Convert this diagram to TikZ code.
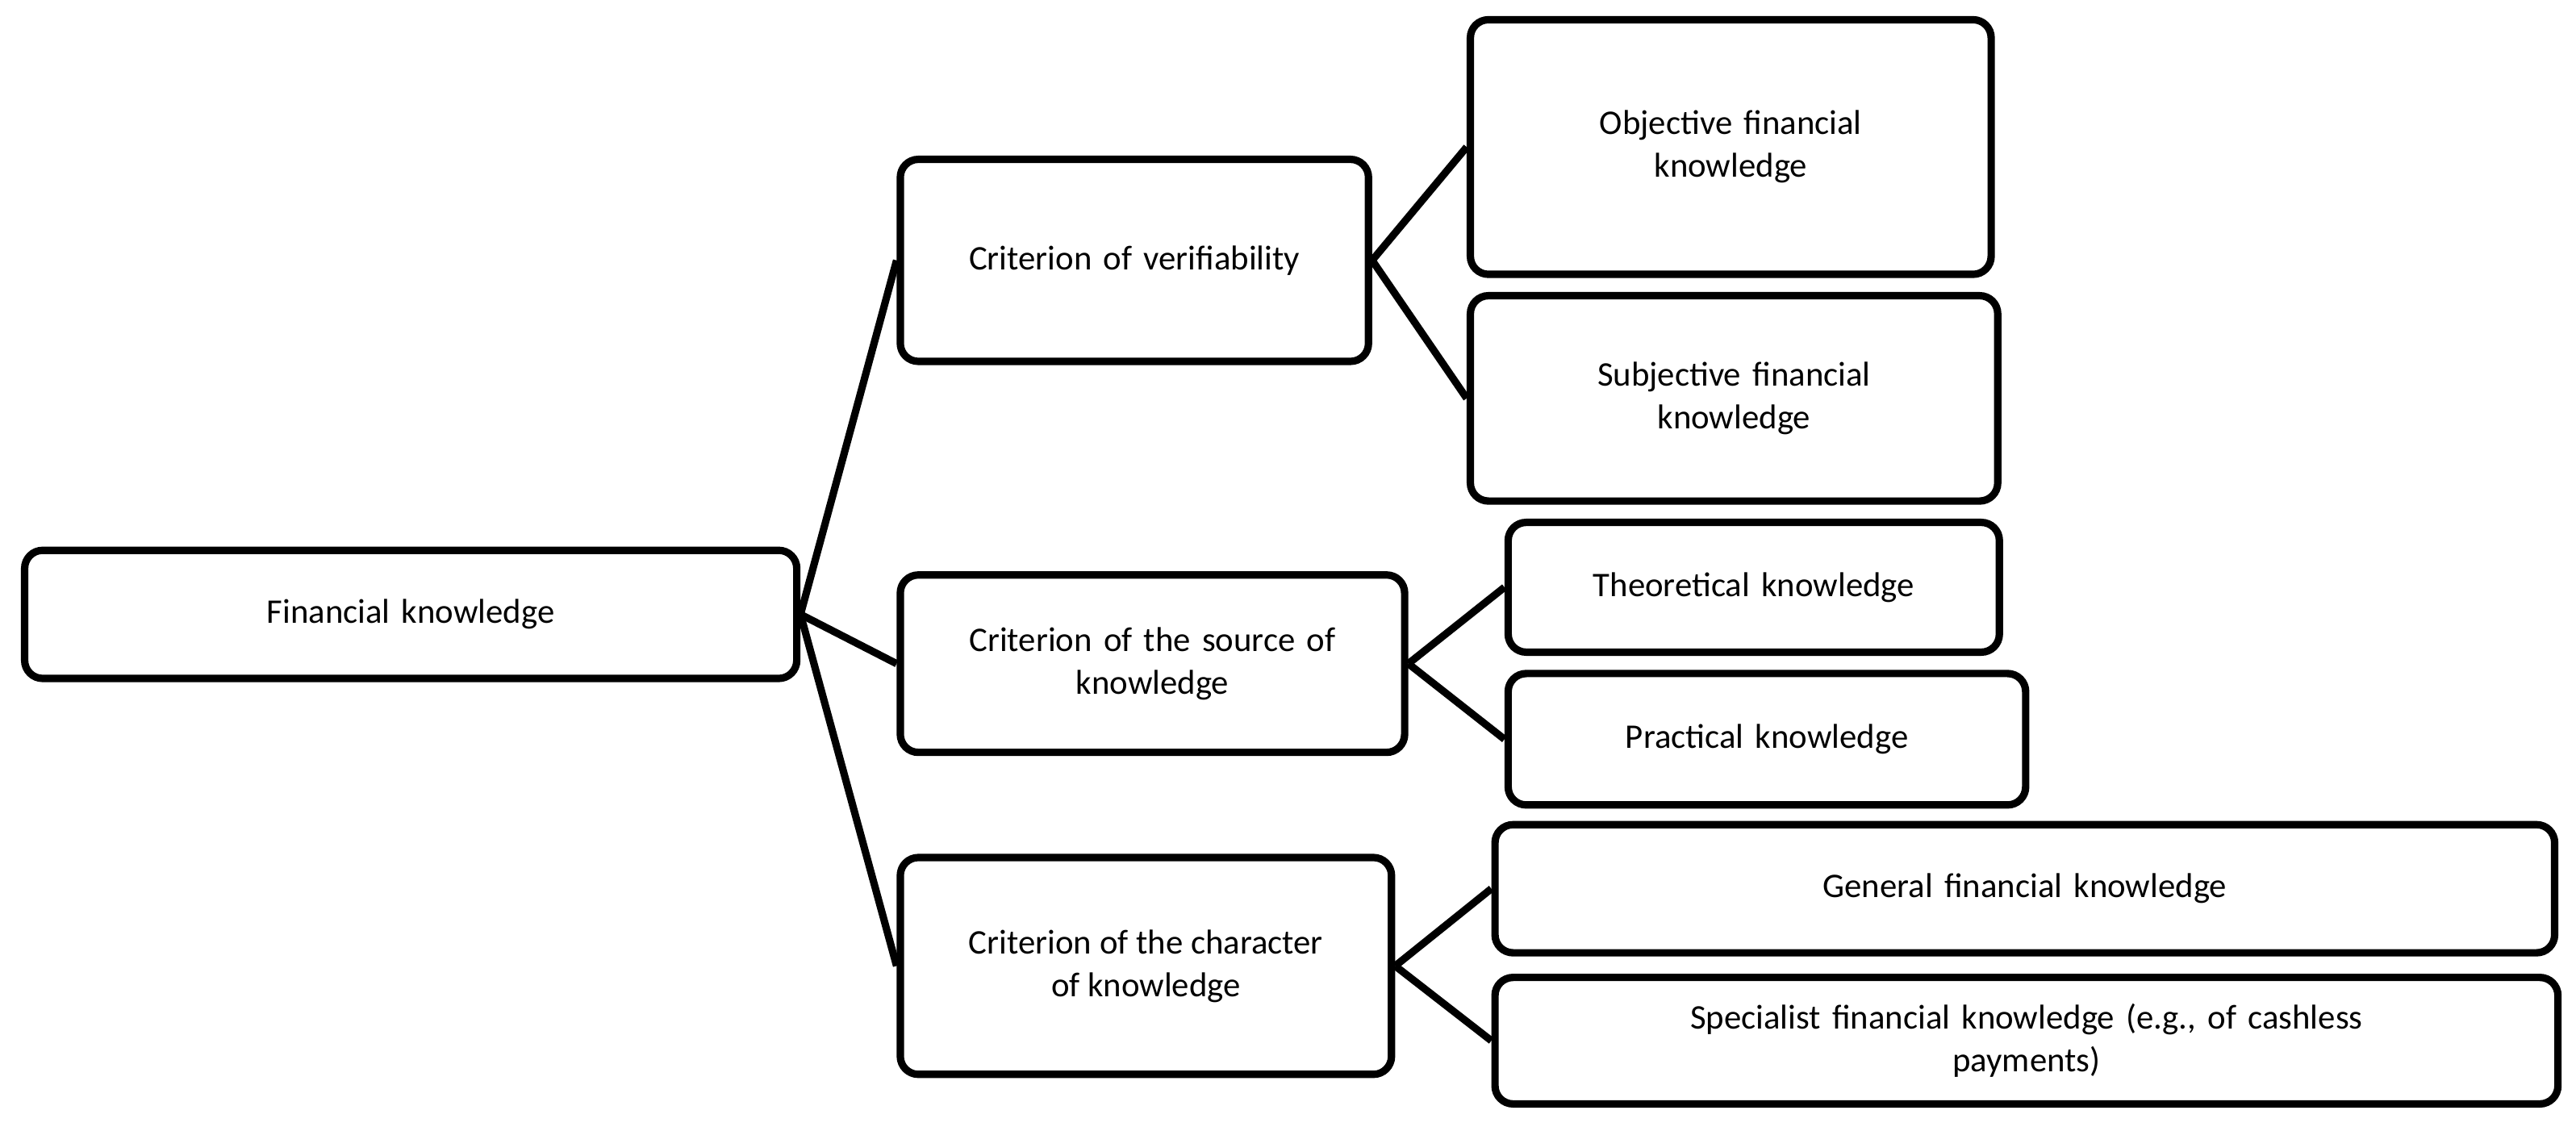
\documentclass[tikz,border=0pt]{standalone}
\usepackage{fontspec}
\setmainfont{Carlito}
\begin{document}
\begin{tikzpicture}[x=1pt,y=-1pt,line width=4.5pt,
  bx/.style={draw,rounded corners=11pt,align=center,font=\fontsize{21}{26}\selectfont,inner sep=0pt},
  ln/.style={line width=4.5pt}]
\useasboundingbox (0,0) rectangle (1568,688);
\newcommand{\bx}[6]{\node[bx,minimum width=#4-#2,minimum height=#5-#3,text width=#4-#2-10] (#1) at ({(#2+#4)/2},{(#3+#5)/2}) {#6};}
\bx{fk}{15}{335}{485}{413}{Financial knowledge}
\bx{ver}{548}{97}{833}{220}{Criterion of verifiability}
\bx{src}{548}{350}{855}{458}{Criterion of the source of\\knowledge}
\node[bx,minimum width=299,minimum height=132] (chr) at (697.5,588) {};
\node[align=center,font=\fontsize{21}{26}\selectfont] at (697.5,588) {Criterion of the character\\of knowledge};
\bx{obj}{895}{12}{1212}{167}{Objective financial\\knowledge}
\bx{sub}{895}{180}{1216}{305}{Subjective financial\\knowledge}
\bx{the}{918}{318}{1217}{397}{Theoretical knowledge}
\bx{pra}{918}{410}{1233}{490}{Practical knowledge}
\bx{gen}{910}{502}{1555}{580}{General financial knowledge}
\bx{spe}{910}{595}{1557}{672}{Specialist financial knowledge (e.g., of cashless\\payments)}
\draw[ln] (fk.east) -- (ver.west);
\draw[ln] (fk.east) -- (src.west);
\draw[ln] (fk.east) -- (chr.west);
\draw[ln] (ver.east) -- (obj.west);
\draw[ln] (ver.east) -- (sub.west);
\draw[ln] (src.east) -- (the.west);
\draw[ln] (src.east) -- (pra.west);
\draw[ln] (chr.east) -- (gen.west);
\draw[ln] (chr.east) -- (spe.west);
\end{tikzpicture}
\end{document}
